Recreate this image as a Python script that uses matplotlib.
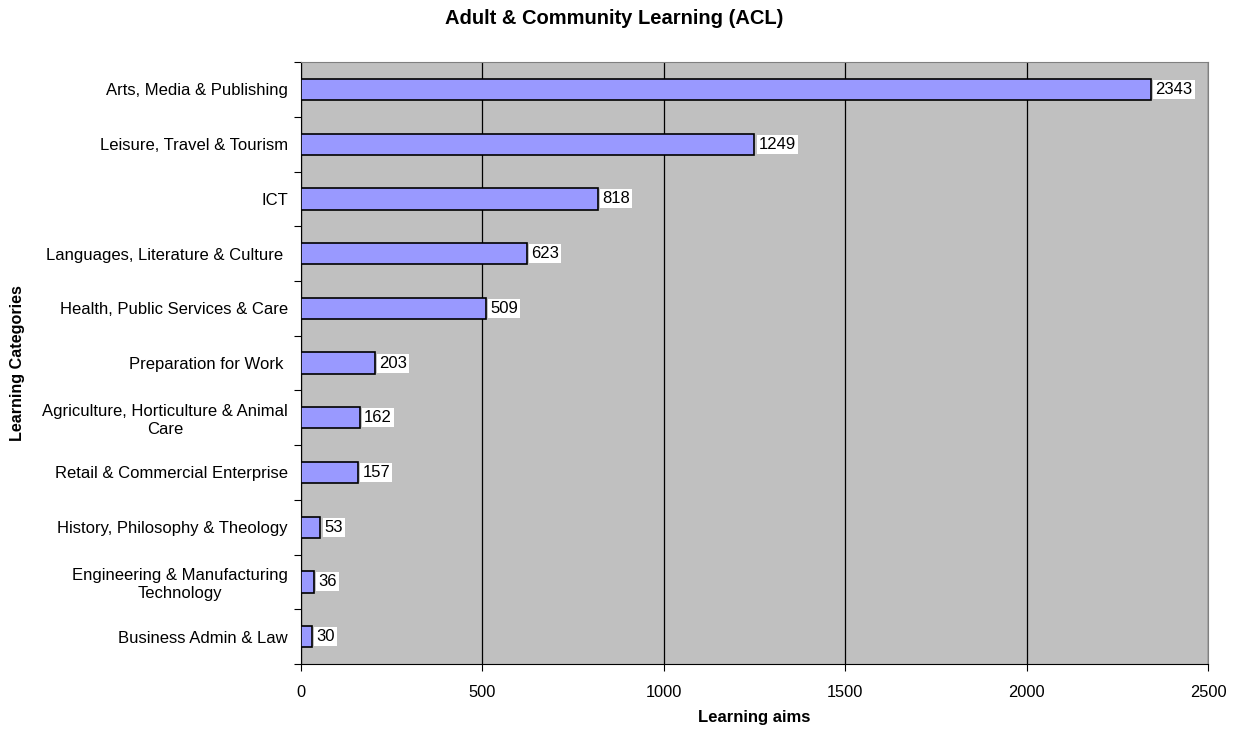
import matplotlib
matplotlib.use('Agg')
import matplotlib.pyplot as plt
import numpy as np

plt.rcParams['font.family'] = ['Liberation Sans', 'DejaVu Sans']

# data, listed top to bottom as in the chart
categories = [
    "Arts, Media & Publishing",
    "Leisure, Travel & Tourism",
    "ICT",
    "Languages, Literature & Culture ",
    "Health, Public Services & Care",
    "Preparation for Work ",
    "Agriculture, Horticulture & Animal\nCare",
    "Retail & Commercial Enterprise",
    "History, Philosophy & Theology",
    "Engineering & Manufacturing\nTechnology",
    "Business Admin & Law",
]
aims = [2343, 1249, 818, 623, 509, 203, 162, 157, 53, 36, 30]

fig = plt.figure(figsize=(12.39, 7.31), dpi=100)
ax = fig.add_axes([0.243, 0.0917, 0.732, 0.8233])
ax.set_facecolor('#c0c0c0')

n = len(categories)
ypos = np.arange(n)[::-1]
ax.barh(ypos, aims, height=0.39, color='#9999ff', edgecolor='black', linewidth=1.2, zorder=3)

for y, v in zip(ypos, aims):
    ax.text(v + 12, y, str(v), va='center', ha='left', fontsize=12, zorder=4,
            bbox=dict(facecolor='white', edgecolor='none', pad=1.5))

ax.set_xlim(0, 2500)
ax.set_ylim(-0.5, n - 0.5)
ax.set_xticks(np.arange(0, 2501, 500))
ax.tick_params(axis='x', labelsize=11.8, length=5, direction='out', pad=10)
ax.xaxis.grid(True, color='black', linewidth=0.9, zorder=1)
ax.set_axisbelow(True)

# category labels at centres, tick marks at boundaries
ax.set_yticks(np.arange(-0.5, n, 1.0))
ax.set_yticklabels([])
ax.tick_params(axis='y', length=5, direction='out')
ax.set_yticks(ypos, minor=True)
ax.set_yticklabels(categories, minor=True, fontsize=12, ha='right', multialignment='center')
ax.tick_params(axis='y', which='minor', length=0, pad=9.5)

for s in ['top', 'right']:
    ax.spines[s].set_color('#808080')
for s in ['left', 'bottom']:
    ax.spines[s].set_color('black')

ax.set_xlabel('Learning aims', fontsize=12, fontweight='bold', va='center')
ax.xaxis.set_label_coords(0.5, -0.0897)
ax.set_ylabel('Learning Categories', fontsize=11.6, fontweight='bold', va='center')
ax.yaxis.set_label_coords(-0.313, 0.5)
fig.text(0.496, 0.975, 'Adult & Community Learning (ACL)', ha='center', va='center',
         fontsize=14.5, fontweight='bold')

fig.savefig('out.png', dpi=100)
